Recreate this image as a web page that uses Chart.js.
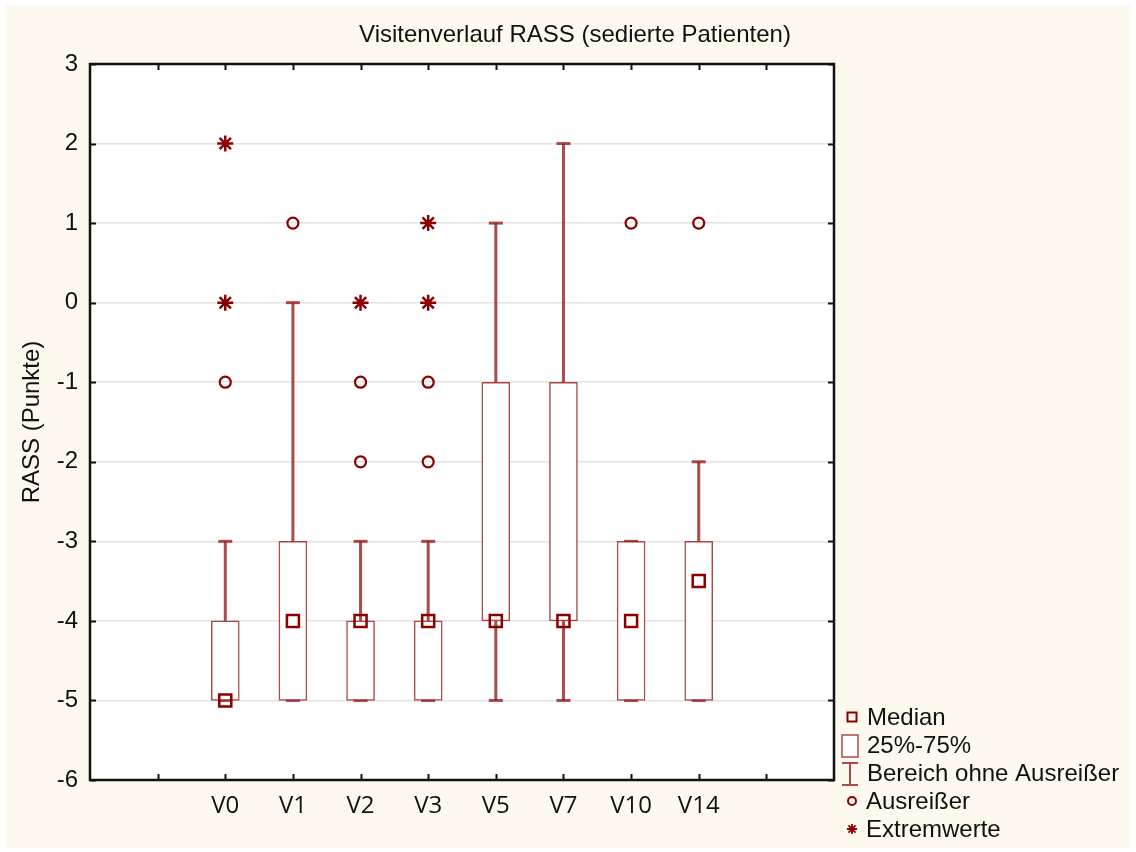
<!DOCTYPE html>
<html lang="de">
<head>
<meta charset="utf-8">
<title>Visitenverlauf RASS</title>
<script src="https://cdn.jsdelivr.net/npm/chart.js@4/dist/chart.umd.min.js"></script>
<style>
  html, body { margin: 0; padding: 0; background: #fff; }
  #wrap { width: 1136px; height: 852px; }
</style>
</head>
<body>
<div id="wrap"><canvas id="rassChart" width="1136" height="852"></canvas></div>
<script>
// Visits and their slot on the x axis (axis runs 0..11)
const visits = ['V0', 'V1', 'V2', 'V3', 'V5', 'V7', 'V10', 'V14'];
const positions = [2, 3, 4, 5, 6, 7, 8, 9];

// Box plot statistics per visit
const medians = [-5, -4, -4, -4, -4, -4, -4, -3.5];
const q1 = [-5, -5, -5, -5, -4, -4, -5, -5];
const q3 = [-4, -3, -4, -4, -1, -1, -3, -3];
const whiskerMin = [-5, -5, -5, -5, -5, -5, -5, -5];
const whiskerMax = [-3, 0, -3, -3, 1, 2, -3, -2];

// Outliers (circles) and extremes (asterisks), one list per visit
const outliers = [[-1], [1], [-1, -2], [-1, -2], [], [], [1], [1]];
const extremes = [[0, 2], [], [0], [0, 1], [], [], [], []];

const yTicks = [-6, -5, -4, -3, -2, -1, 0, 1, 2, 3];

const RED = '#8b0000';
const RED_SOFT = 'rgba(150, 30, 30, 0.8)';
const CREAM = '#fef9ef';
const ARIAL = '"Liberation Sans", Arial, sans-serif';

const boxData = positions.map((p, i) => ({ x: p, y: [q1[i], q3[i]] }));
const medianData = positions.map((p, i) => ({ x: p, y: medians[i] }));
const outlierData = [];
const extremeData = [];
positions.forEach((p, i) => {
    outliers[i].forEach(v => outlierData.push({ x: p, y: v }));
    extremes[i].forEach(v => extremeData.push({ x: p, y: v }));
});

// Background, whiskers, frame with inner ticks, title and legend
const decorations = {
    id: 'decorations',
    beforeDraw(chart) {
        const { ctx, chartArea: a } = chart;
        ctx.save();
        ctx.fillStyle = '#fff';
        ctx.fillRect(0, 0, chart.width, chart.height);
        ctx.fillStyle = CREAM;
        ctx.fillRect(6, 5, 1124, 843);
        ctx.fillStyle = '#fff';
        ctx.fillRect(a.left, a.top, a.right - a.left, a.bottom - a.top);
        ctx.restore();
    },
    beforeDatasetsDraw(chart) {
        const { ctx, scales: { x, y } } = chart;
        ctx.save();
        ctx.strokeStyle = RED_SOFT;
        ctx.lineWidth = 3;
        positions.forEach((p, i) => {
            const px = x.getPixelForValue(p);
            const segs = [[q3[i], whiskerMax[i]], [whiskerMin[i], q1[i]]];
            segs.forEach(([from, to]) => {
                ctx.beginPath();
                ctx.moveTo(px, y.getPixelForValue(from));
                ctx.lineTo(px, y.getPixelForValue(to));
                ctx.stroke();
            });
            // caps
            [whiskerMin[i], whiskerMax[i]].forEach(v => {
                const py = y.getPixelForValue(v);
                ctx.beginPath();
                ctx.moveTo(px - 7, py);
                ctx.lineTo(px + 7, py);
                ctx.stroke();
            });
        });
        ctx.restore();
    },
    afterDraw(chart) {
        const { ctx, chartArea: a, scales: { x, y } } = chart;
        ctx.save();

        // frame
        ctx.strokeStyle = '#111';
        ctx.lineWidth = 2.5;
        ctx.strokeRect(a.left, a.top, a.right - a.left, a.bottom - a.top);

        // ticks pointing into the plot
        ctx.lineWidth = 2;
        for (let v = 1; v <= 10; v++) {
            const px = Math.round(x.getPixelForValue(v)) + 0.5;
            ctx.beginPath();
            ctx.moveTo(px, a.bottom);
            ctx.lineTo(px, a.bottom - 6);
            ctx.moveTo(px, a.top);
            ctx.lineTo(px, a.top + 6);
            ctx.stroke();
        }
        yTicks.forEach(v => {
            const py = Math.round(y.getPixelForValue(v)) + 0.5;
            ctx.beginPath();
            ctx.moveTo(a.left, py);
            ctx.lineTo(a.left + 6, py);
            ctx.moveTo(a.right, py);
            ctx.lineTo(a.right - 6, py);
            ctx.stroke();
        });

        // title
        ctx.fillStyle = '#111';
        ctx.font = '24px ' + ARIAL;
        ctx.textAlign = 'center';
        ctx.textBaseline = 'middle';
        ctx.fillText('Visitenverlauf RASS (sedierte Patienten)', 575, 35);

        // legend
        const lx = 852;
        const tx = 867;
        ctx.textAlign = 'left';
        ctx.fillText('Median', tx, 718);
        ctx.fillText('25%-75%', tx, 746);
        ctx.fillText('Bereich ohne Ausreißer', tx, 774);
        ctx.fillText('Ausreißer', tx - 1, 802);
        ctx.fillText('Extremwerte', tx - 1, 830);

        ctx.strokeStyle = RED;
        ctx.lineWidth = 2;
        ctx.strokeRect(lx - 4.5, 712.5, 9, 9);

        ctx.strokeStyle = RED_SOFT;
        ctx.lineWidth = 1.5;
        ctx.fillStyle = '#fff';
        ctx.fillRect(842, 735, 16, 22);
        ctx.strokeRect(842, 735, 16, 22);

        ctx.lineWidth = 2;
        ctx.beginPath();
        ctx.moveTo(850, 763);
        ctx.lineTo(850, 785);
        ctx.moveTo(842, 763);
        ctx.lineTo(858, 763);
        ctx.moveTo(842, 785);
        ctx.lineTo(858, 785);
        ctx.stroke();

        ctx.strokeStyle = RED;
        ctx.beginPath();
        ctx.arc(lx, 801, 4, 0, Math.PI * 2);
        ctx.stroke();

        ctx.lineWidth = 1.8;
        ctx.beginPath();
        for (let k = 0; k < 4; k++) {
            const ang = k * Math.PI / 4;
            ctx.moveTo(lx - 5 * Math.cos(ang), 829 - 5 * Math.sin(ang));
            ctx.lineTo(lx + 5 * Math.cos(ang), 829 + 5 * Math.sin(ang));
        }
        ctx.stroke();

        ctx.restore();
    }
};

new Chart(document.getElementById('rassChart'), {
    data: {
        datasets: [
            {
                type: 'bar',
                label: '25%-75%',
                data: boxData,
                backgroundColor: '#fff',
                borderColor: RED_SOFT,
                borderWidth: 1.5,
                borderSkipped: false,
                barThickness: 28,
                order: 3
            },
            {
                type: 'scatter',
                label: 'Median',
                data: medianData,
                pointStyle: 'rect',
                pointRadius: 8.5,
                pointBorderWidth: 2.5,
                pointBackgroundColor: 'rgba(255,255,255,0)',
                pointBorderColor: RED,
                order: 1
            },
            {
                type: 'scatter',
                label: 'Ausreißer',
                data: outlierData,
                pointStyle: 'circle',
                pointRadius: 5.5,
                pointBorderWidth: 2.2,
                pointBackgroundColor: 'rgba(255,255,255,0)',
                pointBorderColor: RED,
                order: 2
            },
            {
                type: 'scatter',
                label: 'Extremwerte',
                data: extremeData,
                pointStyle: 'star',
                pointRadius: 8,
                pointBorderWidth: 2.5,
                pointBorderColor: RED,
                order: 2
            }
        ]
    },
    options: {
        responsive: false,
        animation: false,
        layout: { padding: { top: 64, right: 302, left: 0, bottom: 0 } },
        plugins: {
            legend: { display: false },
            tooltip: { enabled: false }
        },
        scales: {
            x: {
                type: 'linear',
                min: 0,
                max: 11,
                offset: false,
                grid: { display: false, offset: false },
                border: { display: false },
                afterFit: s => { s.height = 72; },
                afterBuildTicks: s => {
                    s.ticks = [];
                    for (let v = 0; v <= 11; v++) s.ticks.push({ value: v });
                },
                ticks: {
                    padding: 4,
                    maxRotation: 0,
                    autoSkip: false,
                    color: '#111',
                    font: { family: '"Open Sans", sans-serif', size: 24 },
                    callback: v => {
                        const i = positions.indexOf(v);
                        return i >= 0 ? visits[i] : '';
                    }
                }
            },
            y: {
                min: -6,
                max: 3,
                afterFit: s => { s.width = 90; },
                afterBuildTicks: s => { s.ticks = yTicks.map(v => ({ value: v })); },
                grid: { color: '#e3e3e3', lineWidth: 1.5, drawTicks: false },
                border: { display: false },
                ticks: {
                    padding: 12,
                    color: '#111',
                    font: { family: ARIAL, size: 24 }
                },
                title: {
                    display: true,
                    text: 'RASS (Punkte)',
                    color: '#111',
                    padding: { top: 18, bottom: 0 },
                    font: { family: ARIAL, size: 24 }
                }
            }
        }
    },
    plugins: [decorations]
});
</script>
</body>
</html>
